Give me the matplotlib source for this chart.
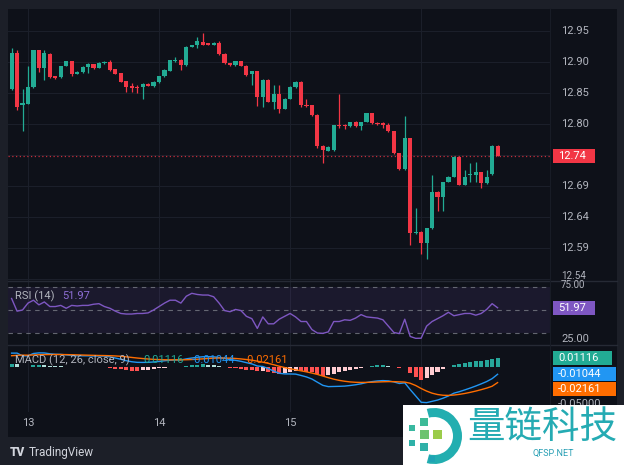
import matplotlib.pyplot as plt
import matplotlib.patches as mpatches
import matplotlib.transforms as mtransforms
import numpy as np

# hourly candles, index 3 = day 13 00:00
opens = [12.856, 12.914, 12.830, 12.833, 12.860, 12.919, 12.890, 12.913, 12.877, 12.876,
         12.894, 12.901, 12.881, 12.884, 12.892, 12.896, 12.891, 12.898, 12.900, 12.888,
         12.882, 12.869, 12.861, 12.859, 12.859, 12.865, 12.861, 12.867, 12.877, 12.886,
         12.902, 12.904, 12.895, 12.925, 12.927, 12.933, 12.930, 12.928, 12.930, 12.913,
         12.898, 12.895, 12.901, 12.894, 12.881, 12.885, 12.843, 12.871, 12.836, 12.848,
         12.825, 12.841, 12.859, 12.868, 12.831, 12.830, 12.815, 12.765, 12.757, 12.758,
         12.799, 12.798, 12.796, 12.804, 12.796, 12.804, 12.817, 12.802, 12.801, 12.798,
         12.788, 12.753, 12.727, 12.777, 12.624, 12.626, 12.608, 12.632, 12.691, 12.683,
         12.707, 12.715, 12.747, 12.702, 12.718, 12.718, 12.722, 12.705, 12.719, 12.765]
highs = [12.922, 12.919, 12.857, 12.893, 12.920, 12.920, 12.919, 12.914, 12.878, 12.894,
         12.902, 12.902, 12.885, 12.893, 12.898, 12.897, 12.900, 12.902, 12.903, 12.889,
         12.883, 12.870, 12.866, 12.863, 12.866, 12.866, 12.869, 12.878, 12.888, 12.904,
         12.908, 12.905, 12.926, 12.928, 12.941, 12.946, 12.931, 12.932, 12.934, 12.914,
         12.899, 12.902, 12.902, 12.895, 12.886, 12.886, 12.872, 12.872, 12.863, 12.863,
         12.842, 12.862, 12.869, 12.869, 12.841, 12.831, 12.816, 12.766, 12.764, 12.798,
         12.849, 12.800, 12.804, 12.805, 12.804, 12.818, 12.818, 12.804, 12.803, 12.801,
         12.789, 12.754, 12.813, 12.778, 12.664, 12.627, 12.633, 12.718, 12.692, 12.707,
         12.716, 12.748, 12.749, 12.726, 12.737, 12.738, 12.723, 12.726, 12.766, 12.766]
lows = [12.855, 12.823, 12.788, 12.832, 12.858, 12.884, 12.871, 12.874, 12.873, 12.875,
        12.893, 12.877, 12.880, 12.883, 12.883, 12.889, 12.890, 12.897, 12.886, 12.880,
        12.867, 12.852, 12.852, 12.850, 12.841, 12.861, 12.860, 12.866, 12.876, 12.885,
        12.900, 12.887, 12.894, 12.924, 12.922, 12.927, 12.927, 12.927, 12.911, 12.897,
        12.894, 12.894, 12.893, 12.877, 12.863, 12.829, 12.827, 12.835, 12.825, 12.817,
        12.824, 12.840, 12.858, 12.828, 12.828, 12.813, 12.761, 12.737, 12.756, 12.757,
        12.793, 12.792, 12.795, 12.795, 12.790, 12.803, 12.800, 12.798, 12.793, 12.787,
        12.752, 12.726, 12.726, 12.605, 12.623, 12.591, 12.583, 12.631, 12.660, 12.659,
        12.706, 12.714, 12.701, 12.701, 12.706, 12.707, 12.696, 12.704, 12.718, 12.748]
closes = [12.914, 12.828, 12.834, 12.860, 12.919, 12.890, 12.914, 12.876, 12.875, 12.894,
          12.901, 12.881, 12.884, 12.892, 12.896, 12.890, 12.899, 12.900, 12.887, 12.881,
          12.868, 12.859, 12.858, 12.858, 12.865, 12.862, 12.868, 12.877, 12.887, 12.903,
          12.904, 12.895, 12.925, 12.927, 12.934, 12.928, 12.928, 12.931, 12.913, 12.898,
          12.895, 12.901, 12.894, 12.879, 12.885, 12.843, 12.871, 12.836, 12.848, 12.825,
          12.841, 12.859, 12.868, 12.831, 12.829, 12.815, 12.765, 12.758, 12.763, 12.798,
          12.796, 12.796, 12.804, 12.796, 12.804, 12.817, 12.801, 12.800, 12.798, 12.788,
          12.753, 12.727, 12.777, 12.624, 12.626, 12.608, 12.632, 12.691, 12.683, 12.707,
          12.715, 12.747, 12.702, 12.715, 12.720, 12.722, 12.705, 12.715, 12.765, 12.748]

rsi = [60, 49, 50, 56, 58.5, 54.5, 57, 53, 53, 54,
       51.5, 54, 53.5, 54, 54, 55, 55.5, 53, 51.5, 49,
       47, 46.5, 46.5, 47, 47, 47.5, 50, 53, 56, 58.5,
       58.5, 56, 62, 64.5, 63.5, 63, 63, 61.5, 56, 49.5,
       48.5, 50.5, 49.5, 44.5, 42.5, 34, 44, 38, 38, 42,
       44.5, 47, 44, 40, 40, 33, 30, 29.7, 31, 40,
       40, 41.5, 41, 43, 46, 44, 43.5, 43, 41.5, 36,
       30.5, 29.5, 42, 27, 25.4, 25.5, 36, 40, 42.5, 45,
       48, 45, 46, 47, 47, 45.5, 47, 50.5, 55.5, 51.97]

macd_line = [0.0180, 0.0180, 0.0143, 0.0144, 0.0175, 0.0183, 0.0182, 0.0171, 0.0165, 0.0163,
             0.0156, 0.0148, 0.0144, 0.0144, 0.0144, 0.0141, 0.0141, 0.0140, 0.0130, 0.0114,
             0.0097, 0.0078, 0.0064, 0.0056, 0.0055, 0.0056, 0.0061, 0.0068, 0.0077, 0.0084,
             0.0087, 0.0088, 0.0103, 0.0114, 0.0124, 0.0131, 0.0132, 0.0130, 0.0122, 0.0108,
             0.0094, 0.0083, 0.0070, 0.0052, 0.0035, 0.0007, 0.0000, -0.0028, -0.0061, -0.0091,
             -0.0099, -0.0100, -0.0102, -0.0120, -0.0140, -0.0168, -0.0211, -0.0253, -0.0270, -0.0268,
             -0.0266, -0.0263, -0.0255, -0.0245, -0.0232, -0.0215, -0.0203, -0.0194, -0.0189, -0.0193,
             -0.0207, -0.0228, -0.0219, -0.0310, -0.0395, -0.0480, -0.0485, -0.0468, -0.0451, -0.0426,
             -0.0396, -0.0358, -0.0338, -0.0314, -0.0289, -0.0262, -0.0233, -0.0202, -0.0163, -0.01044]
signal_line = [0.0145, 0.0150, 0.0153, 0.0152, 0.0155, 0.0158, 0.0160, 0.0161, 0.0161, 0.0161,
               0.0160, 0.0158, 0.0156, 0.0154, 0.0152, 0.0150, 0.0148, 0.0147, 0.0145, 0.0142,
               0.0137, 0.0130, 0.0122, 0.0114, 0.0107, 0.0101, 0.0096, 0.0093, 0.0091, 0.0090,
               0.0090, 0.0090, 0.0091, 0.0094, 0.0098, 0.0103, 0.0108, 0.0112, 0.0114, 0.0114,
               0.0112, 0.0108, 0.0102, 0.0094, 0.0085, 0.0072, 0.0058, 0.0042, 0.0024, 0.0004,
               -0.0014, -0.0030, -0.0044, -0.0058, -0.0072, -0.0088, -0.0106, -0.0128, -0.0150, -0.0170,
               -0.0186, -0.0198, -0.0207, -0.0212, -0.0214, -0.0213, -0.0211, -0.0208, -0.0205, -0.0203,
               -0.0203, -0.0206, -0.0209, -0.0225, -0.0255, -0.0295, -0.0330, -0.0358, -0.0376, -0.0386,
               -0.0388, -0.0383, -0.0374, -0.0362, -0.0347, -0.0330, -0.0311, -0.0290, -0.0265, -0.02161]
histogram = [0.0035, 0.0030, -0.0010, -0.0008, 0.0020, 0.0025, 0.0022, 0.0010, 0.0004, 0.0002,
             -0.0004, -0.0010, -0.0012, -0.0010, -0.0008, -0.0009, -0.0007, -0.0007, -0.0015, -0.0028,
             -0.0040, -0.0052, -0.0058, -0.0058, -0.0052, -0.0045, -0.0035, -0.0025, -0.0014, -0.0006,
             -0.0003, -0.0002, 0.0012, 0.0020, 0.0026, 0.0028, 0.0024, 0.0018, 0.0008, -0.0006,
             -0.0018, -0.0025, -0.0032, -0.0042, -0.0050, -0.0065, -0.0058, -0.0070, -0.0085, -0.0095,
             -0.0085, -0.0070, -0.0058, -0.0062, -0.0068, -0.0080, -0.0105, -0.0125, -0.0120, -0.0098,
             -0.0080, -0.0065, -0.0048, -0.0033, -0.0018, -0.0002, 0.0008, 0.0014, 0.0016, 0.0010,
             -0.0004, -0.0022, -0.0010, -0.0085, -0.0140, -0.0185, -0.0155, -0.0110, -0.0075, -0.0040,
             -0.0008, 0.0025, 0.0036, 0.0048, 0.0058, 0.0068, 0.0078, 0.0088, 0.0102, 0.01116]

day_index = [3, 27, 51, 75]
day_labels = ["13", "14", "15", "16"]
price_ticks = [12.95, 12.90, 12.85, 12.80, 12.70, 12.65, 12.60, 12.55]
price_tick_labels = ["12.95", "12.90", "12.85", "12.80", "12.69", "12.64", "12.59", "12.54"]

W, H = 624, 465
frame = "#1c1f28"
chart_bg = "#0e1119"
grid = "#1b1f2a"
text_col = "#b2b5be"
up = "#22ab94"
down = "#f23645"
rsi_col = "#7e57c2"
macd_col = "#2196f3"
sig_col = "#ff6d00"

plt.rcParams["font.family"] = ["Roboto", "DejaVu Sans"]


def px_box(x0, y0, x1, y1):
    return [x0 / W, 1 - y1 / H, (x1 - x0) / W, (y1 - y0) / H]


def fig_text(x, y, s, **kw):
    kw.setdefault("va", "center")
    kw.setdefault("color", text_col)
    kw.setdefault("fontsize", 8)
    return fig.text(x / W, 1 - y / H, s, **kw)


def px_y(ax, v):
    return H - ax.transData.transform((0, v))[1]


def value_tag(x0, x1, yc, color, text):
    fig.add_artist(mpatches.Rectangle((x0 / W, 1 - (yc + 7) / H), (x1 - x0) / W, 14 / H,
                                      transform=fig.transFigure, color=color, lw=0))
    fig_text(x0 + 5, yc, text, color="white")


def new_pane(top, bottom):
    ax = fig.add_axes(px_box(8, top, 550, bottom))
    ax.set_facecolor("none")
    for s in ax.spines.values():
        s.set_visible(False)
    ax.set_xticks([])
    ax.set_yticks([])
    ax.set_xlim(-0.66, 98.6)
    for i in day_index:
        ax.axvline(i, color=grid, lw=0.8, zorder=0)
    return ax


fig = plt.figure(figsize=(W / 100, H / 100), dpi=100, facecolor=frame)
fig.add_artist(mpatches.Rectangle((8 / W, 1 - 437 / H), 609 / W, 428 / H,
                                  transform=fig.transFigure, color=chart_bg, lw=0, zorder=-5))

x = np.arange(len(closes))

# price pane
ax = new_pane(9, 281)
ax.set_ylim(12.5468, 12.9855)
for p in price_ticks + [12.75]:
    ax.axhline(p, color=grid, lw=0.8, zorder=0)
o, h, l, c = map(np.array, (opens, highs, lows, closes))
colors = np.where(c >= o, up, down)
ax.vlines(x, l, h, colors=colors, lw=0.9, zorder=2)
ax.bar(x, np.maximum(np.abs(c - o), 0.0016), bottom=np.minimum(o, c), width=0.76,
       color=colors, zorder=3)
ax.axhline(closes[-1], color=down, lw=0.9, ls=(0, (1, 2)), alpha=0.8, zorder=1)
for p, lab in zip(price_ticks, price_tick_labels):
    if lab == "12.54":
        # squeezed against the RSI pane's top label, as on the screen
        fig_text(561, px_y(ax, p) - 3, lab, fontsize=7)
    else:
        fig_text(561, px_y(ax, p), lab)
value_tag(553, 595, px_y(ax, closes[-1]), down, "12.74")

# RSI pane
ax_r = new_pane(281, 345)
ax_r.set_ylim(19.6, 75.2)
ax_r.axhspan(30, 70, color=rsi_col, alpha=0.12, lw=0)
for lvl in (70, 50, 30):
    ax_r.axhline(lvl, color="#787b86", lw=0.8, ls=(0, (4, 4)), alpha=0.8)
ax_r.plot(x, rsi, color=rsi_col, lw=1)
fig_text(561, px_y(ax_r, 75) + 4, "75.00", fontsize=7)
fig_text(561, px_y(ax_r, 25), "25.00")
value_tag(553, 595, px_y(ax_r, rsi[-1]), rsi_col, "51.97")
fig_text(15, 296, "RSI (14)")
fig_text(62, 296, "51.97", color="#8e6fd6")

# MACD pane
ax_m = new_pane(345, 412)
ax_m.set_ylim(-0.0611, 0.0289)
hist_colors = []
for k, v in enumerate(histogram):
    prev = histogram[k - 1] if k else v
    if v >= 0:
        hist_colors.append("#26a69a" if v >= prev else "#b2dfdb")
    else:
        hist_colors.append("#ff5252" if v <= prev else "#ffcdd2")
ax_m.bar(x, histogram, width=0.74, color=hist_colors, zorder=2)
ax_m.plot(x, macd_line, color=macd_col, lw=1, zorder=3)
ax_m.plot(x, signal_line, color=sig_col, lw=1, zorder=3)
y1 = px_y(ax_m, histogram[-1])
y2 = max(px_y(ax_m, macd_line[-1]), y1 + 15)
y3 = max(px_y(ax_m, signal_line[-1]), y2 + 15)
value_tag(553, 612, y1, "#22ab94", "0.01116")
value_tag(553, 616, y2, macd_col, "-0.01044")
value_tag(553, 616, y3, sig_col, "-0.02161")
fig_text(558, 404, "-0.05000")
fig_text(15, 360, "MACD (12, 26, close, 9)")
fig_text(143, 360, "0.01116", color=up)
fig_text(192, 360, "-0.01044", color=macd_col)
fig_text(245, 360, "-0.02161", color=sig_col)

# pane separators and price scale border
for yy in (281, 345):
    fig.add_artist(plt.Line2D([8 / W, 617 / W], [1 - yy / H] * 2, color="#262a35", lw=1))
fig.add_artist(plt.Line2D([550 / W] * 2, [1 - 412 / H, 1 - 9 / H], color="#181c26", lw=0.8))

# time axis
tr = mtransforms.blended_transform_factory(ax_m.transData, fig.transFigure)
for i, lab in zip(day_index, day_labels):
    ax_m.text(i, 1 - 423 / H, lab, transform=tr, ha="center", va="center",
              color=text_col, fontsize=8, clip_on=False)

# TradingView footer
fig_text(10, 452, "TV", color="#d1d4dc", fontsize=8.5, fontweight="black")
fig_text(29, 452, "TradingView", color="#d1d4dc", fontsize=8.5)

# watermark
wm = fig.add_axes(px_box(403, 405, 624, 465), zorder=10)
wm.set_xlim(0, 221)
wm.set_ylim(60, 0)
wm.set_axis_off()
wm.add_patch(mpatches.Rectangle((0, 0), 221, 60, color="white", lw=0))
wm.add_patch(mpatches.Wedge((31, 31), 28, -105, 105, width=9, color="#22aeb0", lw=0))
squares = [(-22, -8, 6, "#39b8a0"), (-10, -14, 8, "#3dbb98"), (-10, -2, 9, "#6cc36f"),
           (3, -2, 9, "#9bcc4a"), (-22, 7, 6, "#2fb1a8"), (-10, 11, 8, "#2fb1a8"),
           (-2, 23, 6, "#1fa3b5")]
for dx, dy, s, col in squares:
    wm.add_patch(mpatches.Rectangle((31 + dx - s / 2, 31 + dy - s / 2), s, s, color=col, lw=0))
wm.text(64, 22, "量链科技", fontsize=27, color="#25abb3", va="center", ha="left",
        family=["Noto Sans CJK SC", "DejaVu Sans"])
wm.text(150, 48, "QFSP.NET", fontsize=6.5, color="#2aa0b5", va="center", ha="center")

fig.savefig("out.png", dpi=100, facecolor=frame)
